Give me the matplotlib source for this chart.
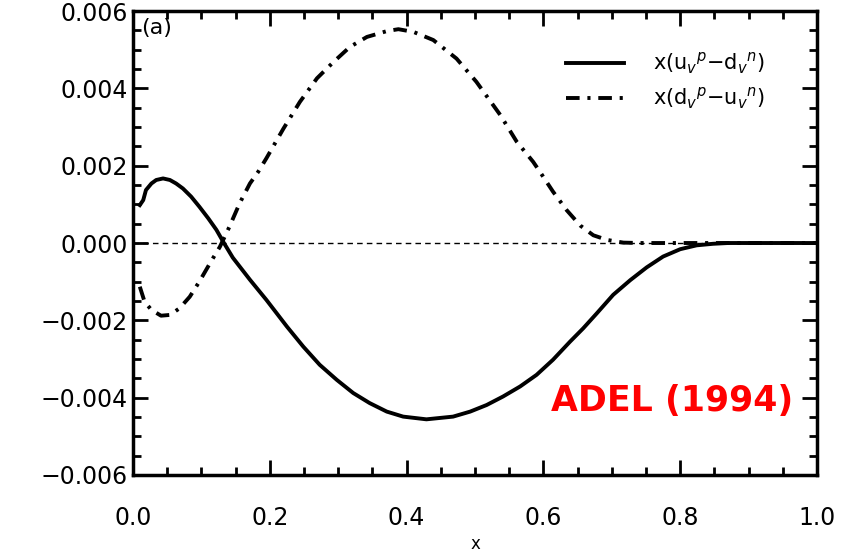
import numpy as np
import matplotlib.pyplot as plt
from matplotlib.ticker import MultipleLocator, FuncFormatter

# x(u_v^p - d_v^n), solid curve (units of 1e-3)
x_solid = [0.010, 0.015, 0.019, 0.027, 0.034, 0.044, 0.054, 0.063, 0.073,
           0.085, 0.097, 0.110, 0.122, 0.132, 0.146, 0.171, 0.195,
           0.225, 0.249, 0.273, 0.298, 0.322, 0.346, 0.371, 0.395, 0.429,
           0.468, 0.493, 0.517, 0.541, 0.566, 0.590, 0.614, 0.639, 0.658,
           0.678, 0.702, 0.727, 0.751, 0.775, 0.800, 0.824, 0.848, 0.870,
           1.000]
y_solid = [0.98, 1.11, 1.37, 1.54, 1.63, 1.67, 1.63, 1.54, 1.41,
           1.20, 0.94, 0.64, 0.34, 0.03, -0.38, -0.95, -1.47,
           -2.16, -2.68, -3.15, -3.54, -3.88, -4.14, -4.36, -4.49, -4.56,
           -4.49, -4.36, -4.19, -3.97, -3.71, -3.41, -3.02, -2.55, -2.21,
           -1.82, -1.34, -0.96, -0.63, -0.35, -0.16, -0.06, -0.02, 0.00,
           0.00]

# x(d_v^p - u_v^n), dash-dot curve
x_dd = [0.010, 0.017, 0.027, 0.041, 0.054, 0.068, 0.083, 0.097, 0.114,
        0.127, 0.141, 0.156, 0.171, 0.183, 0.195, 0.220, 0.244, 0.269,
        0.293, 0.317, 0.342, 0.371, 0.388, 0.410, 0.439, 0.473, 0.502,
        0.537, 0.561, 0.585, 0.595, 0.614, 0.634, 0.654, 0.673, 0.693,
        0.717, 0.741, 0.800, 1.000]
y_dd = [-1.13, -1.52, -1.73, -1.88, -1.86, -1.69, -1.39, -1.00, -0.48,
        -0.10, 0.42, 1.03, 1.54, 1.84, 2.19, 2.96, 3.65, 4.26,
        4.68, 5.07, 5.33, 5.48, 5.53, 5.46, 5.25, 4.77, 4.17,
        3.31, 2.62, 2.10, 1.84, 1.33, 0.85, 0.45, 0.20, 0.08,
        0.01, 0.00, 0.00, 0.00]

y_solid = np.array(y_solid) * 1e-3
y_dd = np.array(y_dd) * 1e-3

plt.rcParams['font.family'] = ['DejaVu Sans']

fig = plt.figure(figsize=(8.54, 5.54), dpi=100)
ax = fig.add_axes([0.1557, 0.1426, 0.801, 0.8375])

ax.axhline(0, color='black', lw=1.0, ls=(0, (4, 3)))
ax.plot(x_solid, y_solid, color='black', lw=2.8, solid_joinstyle='round',
        label=r'x(u$_v$$^p$$-$d$_v$$^n$)')
ax.plot(x_dd, y_dd, color='black', lw=2.8, ls=(0, (3.5, 2, 0.8, 2)),
        label=r'x(d$_v$$^p$$-$u$_v$$^n$)')

ax.set_xlim(0, 1.0)
ax.set_ylim(-0.006, 0.006)
ax.xaxis.set_major_locator(MultipleLocator(0.2))
ax.xaxis.set_minor_locator(MultipleLocator(0.05))
ax.yaxis.set_major_locator(MultipleLocator(0.002))
ax.yaxis.set_minor_locator(MultipleLocator(0.0005))
ax.xaxis.set_major_formatter(FuncFormatter(lambda v, p: f'{v:.1f}'))
ax.yaxis.set_major_formatter(FuncFormatter(lambda v, p: f'{v:.3f}'.replace('-', '\u2212')))

ax.tick_params(which='both', direction='in', top=True, right=True, width=2,
               labelsize=17, colors='black')
ax.tick_params(which='major', length=11, pad=4)
ax.tick_params(which='minor', length=6)
ax.tick_params(axis='x', pad=22)
for s in ax.spines.values():
    s.set_linewidth(2.5)

ax.set_xlabel('x', fontsize=12, labelpad=4)
ax.text(0.012, 0.985, '(a)', transform=ax.transAxes, fontsize=16,
        ha='left', va='top')
ax.text(0.965, 0.16, 'ADEL (1994)', transform=ax.transAxes, color='red',
        fontsize=25, fontweight='bold', ha='right', va='center')

ax.legend(loc='upper left', bbox_to_anchor=(0.605, 0.955), frameon=False,
          fontsize=15, handlelength=2.8, handletextpad=1.4, labelspacing=0.45)

fig.savefig('out.png', dpi=100)
